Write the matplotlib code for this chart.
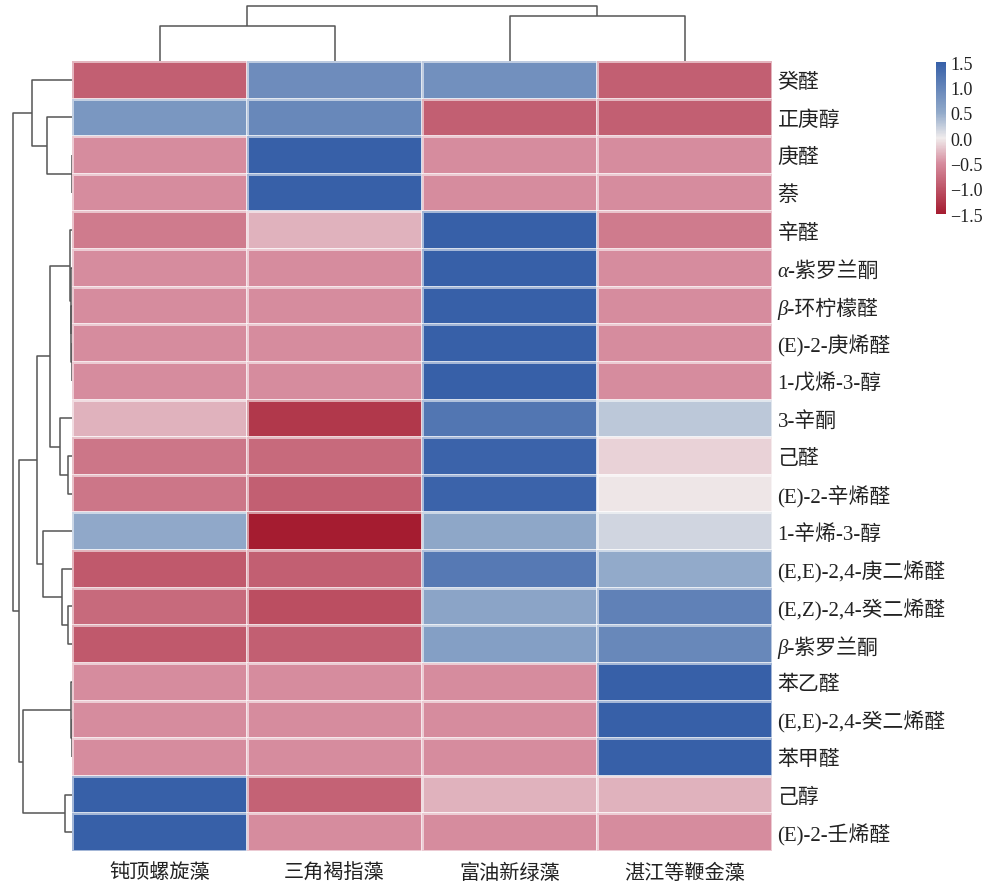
import matplotlib
matplotlib.use('Agg')  # NOQA
from matplotlib import pyplot as plt
from matplotlib.colors import LinearSegmentedColormap
import numpy as np

plt.rcParams['font.family'] = ['Liberation Serif', 'Noto Sans CJK SC']

algae = ['钝顶螺旋藻', '三角褐指藻', '富油新绿藻', '湛江等鞭金藻']
compounds = [
    '癸醛', '正庚醇', '庚醛', '萘', '辛醛', 'α-紫罗兰酮', 'β-环柠檬醛',
    '(E)-2-庚烯醛', '1-戊烯-3-醇', '3-辛酮', '己醛', '(E)-2-辛烯醛',
    '1-辛烯-3-醇', '(E,E)-2,4-庚二烯醛', '(E,Z)-2,4-癸二烯醛', 'β-紫罗兰酮',
    '苯乙醛', '(E,E)-2,4-癸二烯醛', '苯甲醛', '己醇', '(E)-2-壬烯醛',
]
italic_rows = [5, 6, 15]

# row-scaled abundance, rows in clustered order
zscores = np.array([
    [-0.90, 0.90, 0.85, -0.90],
    [0.75, 0.95, -0.90, -0.90],
    [-0.50, 1.50, -0.50, -0.50],
    [-0.50, 1.50, -0.50, -0.50],
    [-0.65, -0.30, 1.50, -0.65],
    [-0.50, -0.50, 1.50, -0.50],
    [-0.50, -0.50, 1.50, -0.50],
    [-0.50, -0.50, 1.50, -0.50],
    [-0.50, -0.50, 1.50, -0.50],
    [-0.30, -1.25, 1.20, 0.27],
    [-0.70, -0.80, 1.45, -0.14],
    [-0.70, -0.90, 1.45, -0.03],
    [0.52, -1.50, 0.55, 0.17],
    [-0.95, -0.90, 1.15, 0.50],
    [-0.80, -1.05, 0.58, 1.05],
    [-0.95, -0.90, 0.65, 0.95],
    [-0.50, -0.50, -0.50, 1.50],
    [-0.50, -0.50, -0.50, 1.50],
    [-0.50, -0.50, -0.50, 1.50],
    [1.50, -0.87, -0.30, -0.30],
    [1.50, -0.50, -0.50, -0.50],
])

# merges as (node a, node b, height); node ids >= n are earlier merges
row_link = [
    (2, 3, 0.3), (1, 21, 25.3), (0, 22, 40.3),
    (7, 8, 0.3), (6, 24, 0.5), (5, 25, 0.8), (4, 26, 2.0),
    (10, 11, 3.7), (9, 28, 12.0), (27, 29, 22.0),
    (14, 15, 3.7), (13, 31, 10.3), (12, 32, 29.3), (30, 33, 34.7),
    (17, 18, 0.3), (16, 35, 0.5), (19, 20, 7.0), (36, 37, 48.7),
    (34, 38, 53.0), (23, 39, 58.7),
]
col_link = [(0, 1, 35.0), (2, 3, 45.0), (4, 5, 55.0)]

cbar_ticks = [1.5, 1.0, 0.5, 0.0, -0.5, -1.0, -1.5]

cmap = LinearSegmentedColormap.from_list('rdbu_soft', [
    (0.0, '#a51c30'),
    (1 / 3, '#d68c9e'),
    (0.5, '#f0ecec'),
    (2 / 3, '#92aaca'),
    (1.0, '#3760a8'),
])


def draw_dendrogram(ax, link, n, side):
    pos = {i: i + 0.5 for i in range(n)}
    hgt = {i: 0.0 for i in range(n)}
    for k, (a, b, h) in enumerate(link):
        p = [pos[a], pos[a], pos[b], pos[b]]
        d = [hgt[a], h, h, hgt[b]]
        if side == 'left':
            ax.plot(d, p, color='#555555', lw=1.1, solid_capstyle='butt')
        else:
            ax.plot(p, d, color='#555555', lw=1.1, solid_capstyle='butt')
        pos[n + k] = (pos[a] + pos[b]) / 2
        hgt[n + k] = h
    ax.axis('off')


W, H = 995, 895
fig = plt.figure(figsize=(W / 100, H / 100), dpi=100)

hm_left, hm_right, hm_top, hm_bottom = 72, 772, 62, 852
nrow, ncol = zscores.shape

ax = fig.add_axes([hm_left / W, 1 - hm_bottom / H,
                   (hm_right - hm_left) / W, (hm_bottom - hm_top) / H])
mesh = ax.pcolormesh(zscores, cmap=cmap, vmin=-1.5, vmax=1.5,
                     edgecolors=(1, 1, 1, 0.55), linewidth=0.9)
ax.set_xlim(0, ncol)
ax.set_ylim(nrow, 0)
for s in ax.spines.values():
    s.set_visible(False)
ax.yaxis.tick_right()
ax.set_yticks(np.arange(nrow) + 0.5)
ax.set_yticklabels(compounds, fontsize=15, color='#222222')
ax.set_xticks(np.arange(ncol) + 0.5)
ax.set_xticklabels(algae, fontsize=14.5, color='#222222')
ax.tick_params(axis='y', length=0, pad=4)
ax.tick_params(axis='x', length=0, pad=9)
for i in italic_rows:
    ax.get_yticklabels()[i].set_style('italic')

# row dendrogram, heights in pixels from the heatmap edge
rax = fig.add_axes([0, 1 - hm_bottom / H, hm_left / W, (hm_bottom - hm_top) / H])
draw_dendrogram(rax, row_link, nrow, 'left')
rax.set_xlim(hm_left, 0)
rax.set_ylim(nrow, 0)

cax_d = fig.add_axes([hm_left / W, 1 - hm_top / H, (hm_right - hm_left) / W, hm_top / H])
draw_dendrogram(cax_d, col_link, ncol, 'top')
cax_d.set_xlim(0, ncol)
cax_d.set_ylim(0, hm_top)

cb_ax = fig.add_axes([936 / W, 1 - 215 / H, 10 / W, 152 / H])
cb = fig.colorbar(mesh, cax=cb_ax)
cb.outline.set_visible(False)
cb.set_ticks(cbar_ticks)
cb.set_ticklabels([f'{v:.1f}'.replace('-', '\u2212') for v in cbar_ticks])
cb_ax.tick_params(length=0, labelsize=13, pad=3, colors='#222222')

fig.savefig('out.png', dpi=100)
